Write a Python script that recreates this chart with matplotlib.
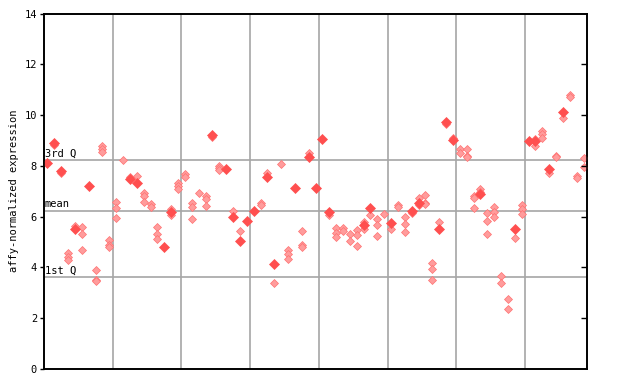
import matplotlib
matplotlib.use("Agg")
import matplotlib.pyplot as plt

# ---- data (per column of samples) ----
checker_vals = [
    [], [8.83], [7.7], [4.56, 4.43, 4.3], [5.65], [5.58, 5.3, 4.68], [], [3.9, 3.5, 3.45],
    [8.78, 8.67, 8.56], [5.08, 4.9, 4.8],
    [6.57, 6.33, 5.93], [8.22], [7.57], [7.6], [6.94, 6.8, 6.57], [6.5, 6.39], [5.6, 5.33, 5.1],
    [], [6.29, 6.06], [7.34, 7.2, 7.07],
    [7.68, 7.55], [6.52, 6.37, 5.89], [6.92], [6.8, 6.7, 6.42], [9.12], [8.0, 7.92, 7.85], [],
    [6.21], [5.43], [],
    [], [6.52, 6.45], [7.70], [3.37], [8.06], [4.68, 4.53, 4.33], [], [5.43, 4.88, 4.8],
    [8.49], [],
    [], [6.06], [5.54, 5.35, 5.18], [5.56, 5.43], [5.30, 5.04], [5.47, 5.28, 4.83], [5.77, 5.51],
    [6.06], [5.91, 5.66, 5.22], [6.10],
    [5.50], [6.45, 6.38], [5.97, 5.71, 5.38], [6.15], [6.72, 6.46], [6.85, 6.55, 6.5],
    [4.16, 3.92, 3.49], [5.77], [9.65], [9.1],
    [8.65, 8.49], [8.65, 8.39, 8.33], [6.81, 6.75, 6.33], [7.07, 6.98], [6.13, 5.83, 5.30],
    [6.37, 6.17, 5.97], [3.65, 3.37], [2.74, 2.35], [5.14], [6.46, 6.29, 6.09],
    [], [9.05, 8.78], [9.37, 9.24, 9.08], [7.70], [8.39, 8.33], [9.87], [10.81, 10.7],
    [7.6, 7.52], [8.29, 7.94],
]
solid_vals = [
    [8.1], [8.9], [7.8], [], [5.52], [], [7.22], [], [], [],
    [], [], [7.47], [7.34], [], [], [], [4.8], [6.2], [],
    [], [], [], [], [9.21], [], [7.86], [5.98], [5.05], [5.81],
    [6.22], [], [7.57], [4.15], [], [], [7.11], [], [8.36], [7.14],
    [9.04], [6.19], [], [], [], [], [5.67], [6.35], [], [],
    [5.76], [], [], [6.23], [6.52], [], [], [5.52], [9.74], [9.0],
    [], [], [], [6.89], [], [], [], [], [5.52], [],
    [8.99], [8.99], [], [7.86], [], [10.13], [], [], [],
]
q1, mean_v, q3 = 3.62, 6.22, 8.22
yticks = [0, 2, 4, 6, 8, 10, 12, 14]
n_cols = len(checker_vals)

# ---- figure ----
fig = plt.figure(figsize=(6.4, 3.84), dpi=100)
ax = fig.add_axes([44 / 640, 15 / 384, 543 / 640, 355.5 / 384])
ax.set_xlim(0, n_cols)
ax.set_ylim(0, 14)

grid_c = "#a6a6a6"
for gx in range(10, n_cols, 10):
    ax.axvline(gx, color=grid_c, lw=1.2, zorder=1)
for hy in (q1, mean_v, q3):
    ax.axhline(hy, color=grid_c, lw=1.2, zorder=1)

mono = "DejaVu Sans Mono"
for hy, lab in ((q3, "3rd Q"), (mean_v, "mean"), (q1, "1st Q")):
    ax.text(0.1, hy + 0.07, lab, fontsize=7.5, family=mono, va="bottom", ha="left", zorder=2)

cx, cy, sx, sy = [], [], [], []
for k in range(n_cols):
    for v in checker_vals[k]:
        cx.append(k + 0.5); cy.append(v)
    for v in solid_vals[k]:
        sx.append(k + 0.5); sy.append(v)

ax.plot(cx, cy, ls="none", marker="D", ms=4.2, mfc="#ff9c9c", mec="#ff7070", mew=0.5, zorder=3)
ax.plot(sx, sy, ls="none", marker="D", ms=4.6, mfc="#ff4f4f", mec="#ff4f4f", mew=0.5, zorder=4)

ax.set_xticks([])
ax.set_yticks(yticks)
ax.set_yticklabels([str(t) for t in yticks], family=mono, fontsize=7.5)
ax.tick_params(axis="y", direction="out", length=3, width=1, pad=2)
ax.set_ylabel("affy-normalized expression", family=mono, fontsize=7.5, labelpad=4)

# right-side inward ticks
ax2 = ax.twinx()
ax2.set_ylim(0, 14)
ax2.set_yticks(yticks[1:-1])
ax2.set_yticklabels([])
ax2.tick_params(axis="y", direction="in", length=4, width=1)

for a in (ax, ax2):
    for s in a.spines.values():
        s.set_linewidth(1.2)
        s.set_color("black")

fig.savefig("out.png", dpi=100)
